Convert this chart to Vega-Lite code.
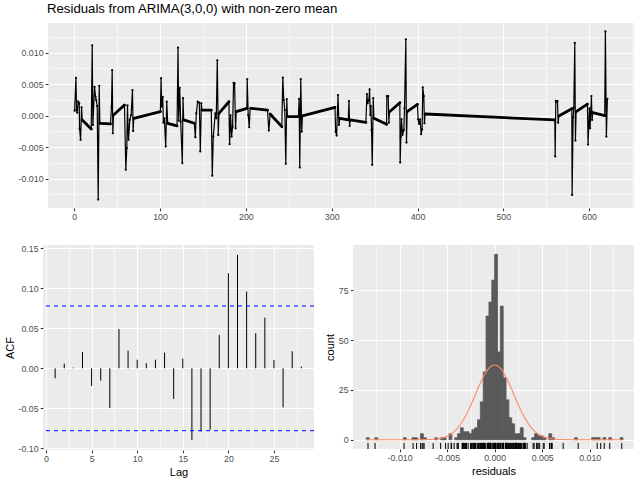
{
  "$schema": "https://vega.github.io/schema/vega-lite/v6.json",
  "background": "white",
  "padding": {"left": 4, "top": 1, "right": 4, "bottom": 4},
  "spacing": 22,
  "datasets": {
    "res": [
      {"t": 0.39, "r": 0.00079}, {"t": 1.94, "r": 0.0060}, {"t": 2.71, "r": 0.00089}, {"t": 3.49, "r": 0.00047},
      {"t": 4.65, "r": 0.00221}, {"t": 5.81, "r": 0.00195}, {"t": 6.2, "r": -0.00205}, {"t": 7.36, "r": -0.00384},
      {"t": 8.53, "r": 0.00132}, {"t": 9.30, "r": -0.00068}, {"t": 19.77, "r": -0.00211}, {"t": 20.93, "r": 0.01116},
      {"t": 21.71, "r": -0.00147}, {"t": 23.64, "r": 0.00458}, {"t": 24.81, "r": 0.0030}, {"t": 25.58, "r": 0.00247},
      {"t": 26.74, "r": 0.00153}, {"t": 27.91, "r": -0.01332}, {"t": 29.07, "r": 0.00474}, {"t": 29.84, "r": -0.00121},
      {"t": 42.25, "r": -0.00132}, {"t": 43.41, "r": 0.00142}, {"t": 44.19, "r": 0.00721}, {"t": 44.96, "r": -0.00279},
      {"t": 45.74, "r": 0.0001}, {"t": 58.53, "r": 0.00168}, {"t": 60.08, "r": -0.00858}, {"t": 61.24, "r": -0.00516},
      {"t": 62.02, "r": 0.00163}, {"t": 63.18, "r": -0.00384}, {"t": 64.73, "r": -0.00068}, {"t": 66.28, "r": 0.0001},
      {"t": 67.83, "r": 0.00405}, {"t": 68.60, "r": -0.00242}, {"t": 69.38, "r": -0.00042}, {"t": 100.39, "r": 0.00063},
      {"t": 101.16, "r": 0.00595}, {"t": 101.94, "r": 0.00142}, {"t": 103.10, "r": 0.0030}, {"t": 103.88, "r": -0.00111},
      {"t": 105.04, "r": -0.00042}, {"t": 106.59, "r": -0.00489}, {"t": 107.75, "r": 0.00221}, {"t": 108.91, "r": -0.00121},
      {"t": 119.77, "r": -0.00163}, {"t": 120.93, "r": 0.01079}, {"t": 121.71, "r": -0.00079}, {"t": 122.87, "r": 0.00442},
      {"t": 124.03, "r": -0.00095}, {"t": 125.97, "r": -0.00753}, {"t": 126.74, "r": 0.00279}, {"t": 127.52, "r": -0.00068},
      {"t": 139.92, "r": -0.00121}, {"t": 141.09, "r": -0.00342}, {"t": 142.25, "r": 0.00037}, {"t": 143.80, "r": 0.00221},
      {"t": 145.74, "r": 0.00205}, {"t": 146.90, "r": -0.00568}, {"t": 148.06, "r": 0.00195}, {"t": 148.84, "r": 0.00089},
      {"t": 159.69, "r": 0.00089}, {"t": 160.85, "r": -0.00953}, {"t": 162.02, "r": -0.00332}, {"t": 164.34, "r": 0.00037},
      {"t": 165.50, "r": -0.00042}, {"t": 166.67, "r": 0.00879}, {"t": 167.83, "r": -0.00305}, {"t": 168.60, "r": 0.00037},
      {"t": 180.23, "r": 0.00221}, {"t": 181.01, "r": -0.00453}, {"t": 182.17, "r": 0.00005}, {"t": 183.33, "r": -0.00332},
      {"t": 184.50, "r": -0.00174}, {"t": 185.66, "r": 0.00521}, {"t": 186.82, "r": 0.00511}, {"t": 187.98, "r": -0.0020},
      {"t": 188.76, "r": 0.00063}, {"t": 201.16, "r": 0.00116}, {"t": 201.55, "r": 0.00579}, {"t": 202.71, "r": 0.0001},
      {"t": 203.88, "r": -0.00184}, {"t": 205.04, "r": 0.00116}, {"t": 206.20, "r": 0.00116}, {"t": 225.19, "r": 0.00089},
      {"t": 226.74, "r": -0.00237}, {"t": 228.29, "r": 0.00026}, {"t": 241.86, "r": -0.00174}, {"t": 243.02, "r": 0.00605},
      {"t": 244.19, "r": 0.00247}, {"t": 245.35, "r": 0.00089}, {"t": 246.51, "r": -0.00763}, {"t": 247.67, "r": 0.00263},
      {"t": 248.45, "r": -0.00016}, {"t": 261.24, "r": -0.00016}, {"t": 262.02, "r": 0.00268}, {"t": 262.79, "r": -0.00821},
      {"t": 263.95, "r": 0.00579}, {"t": 265.12, "r": -0.00253}, {"t": 265.89, "r": -0.00005}, {"t": 303.84, "r": 0.00132},
      {"t": 304.61, "r": -0.00253}, {"t": 305.78, "r": -0.00316}, {"t": 307.33, "r": 0.00326}, {"t": 308.49, "r": -0.00147},
      {"t": 309.65, "r": -0.00042}, {"t": 319.34, "r": -0.00068}, {"t": 320.12, "r": 0.00232}, {"t": 320.89, "r": -0.00163},
      {"t": 321.67, "r": -0.00068}, {"t": 339.88, "r": -0.00105}, {"t": 341.05, "r": 0.00342}, {"t": 341.82, "r": 0.00195},
      {"t": 343.37, "r": 0.00247}, {"t": 344.15, "r": 0.00416}, {"t": 344.92, "r": 0.0001}, {"t": 345.70, "r": 0.00153},
      {"t": 346.47, "r": -0.00226}, {"t": 347.25, "r": -0.00779}, {"t": 348.41, "r": 0.00279}, {"t": 349.19, "r": -0.00042},
      {"t": 363.92, "r": -0.00137}, {"t": 364.30, "r": 0.00311}, {"t": 365.85, "r": 0.00311}, {"t": 366.63, "r": -0.00111},
      {"t": 367.40, "r": 0.00063}, {"t": 379.42, "r": 0.00205}, {"t": 379.81, "r": -0.00742}, {"t": 380.58, "r": -0.00332},
      {"t": 381.36, "r": -0.00053}, {"t": 382.52, "r": -0.00305}, {"t": 384.07, "r": -0.00226}, {"t": 384.85, "r": 0.00116},
      {"t": 386.40, "r": 0.01211}, {"t": 387.17, "r": -0.00426}, {"t": 387.95, "r": 0.00063}, {"t": 399.96, "r": 0.00179},
      {"t": 400.74, "r": -0.00058}, {"t": 401.90, "r": -0.00132}, {"t": 403.06, "r": -0.00058}, {"t": 404.22, "r": -0.00295},
      {"t": 405.39, "r": -0.00216}, {"t": 406.16, "r": 0.00447}, {"t": 407.33, "r": 0.00311}, {"t": 408.10, "r": -0.00121},
      {"t": 408.88, "r": 0.00026}, {"t": 560.04, "r": -0.00068}, {"t": 560.43, "r": -0.00647}, {"t": 561.20, "r": 0.00232},
      {"t": 561.98, "r": 0.00221}, {"t": 563.14, "r": 0.00232}, {"t": 563.92, "r": -0.00111}, {"t": 564.69, "r": -0.00005},
      {"t": 579.81, "r": 0.00111}, {"t": 580.19, "r": -0.01258}, {"t": 581.36, "r": -0.00026}, {"t": 582.13, "r": 0.00126},
      {"t": 583.29, "r": 0.01153}, {"t": 584.07, "r": -0.00395}, {"t": 584.84, "r": 0.00063}, {"t": 598.02, "r": 0.00184},
      {"t": 598.80, "r": -0.00458}, {"t": 600.35, "r": 0.00116}, {"t": 601.12, "r": -0.0020}, {"t": 602.67, "r": 0.00311},
      {"t": 603.45, "r": -0.00068}, {"t": 604.22, "r": 0.00047}, {"t": 618.18, "r": 0.0}, {"t": 618.95, "r": 0.01337},
      {"t": 620.12, "r": -0.00332}, {"t": 621.28, "r": 0.00268}
    ],
    "acf": [
      {"lag": 1, "acf": -0.0125}, {"lag": 2, "acf": 0.0058}, {"lag": 3, "acf": 0.001}, {"lag": 4, "acf": 0.0204},
      {"lag": 5, "acf": -0.022}, {"lag": 6, "acf": -0.0154}, {"lag": 7, "acf": -0.0496}, {"lag": 8, "acf": 0.0492},
      {"lag": 9, "acf": 0.0221}, {"lag": 10, "acf": 0.0108}, {"lag": 11, "acf": 0.0063}, {"lag": 12, "acf": 0.0108},
      {"lag": 13, "acf": 0.0196}, {"lag": 14, "acf": -0.0383}, {"lag": 15, "acf": 0.0121}, {"lag": 16, "acf": -0.0896},
      {"lag": 17, "acf": -0.0788}, {"lag": 18, "acf": -0.0767}, {"lag": 19, "acf": 0.0417}, {"lag": 20, "acf": 0.1188},
      {"lag": 21, "acf": 0.1417}, {"lag": 22, "acf": 0.0958}, {"lag": 23, "acf": 0.0438}, {"lag": 24, "acf": 0.0633},
      {"lag": 25, "acf": 0.0104}, {"lag": 26, "acf": -0.0488}, {"lag": 27, "acf": 0.0213}, {"lag": 28, "acf": 0.0021}
    ],
    "ci": [{"bound": 0.0779}, {"bound": -0.0779}],
    "hist": [
      {"lo": -0.0135, "hi": -0.0132, "count": 1}, {"lo": -0.0126, "hi": -0.0123, "count": 1},
      {"lo": -0.0096, "hi": -0.0093, "count": 1}, {"lo": -0.0087, "hi": -0.0084, "count": 1},
      {"lo": -0.0084, "hi": -0.0081, "count": 1}, {"lo": -0.0078, "hi": -0.0075, "count": 3},
      {"lo": -0.0075, "hi": -0.0072, "count": 1}, {"lo": -0.0063, "hi": -0.0060, "count": 1},
      {"lo": -0.0057, "hi": -0.0054, "count": 1}, {"lo": -0.0054, "hi": -0.0051, "count": 1},
      {"lo": -0.0048, "hi": -0.0045, "count": 3}, {"lo": -0.0042, "hi": -0.0039, "count": 1},
      {"lo": -0.0039, "hi": -0.0036, "count": 3}, {"lo": -0.0036, "hi": -0.0033, "count": 6},
      {"lo": -0.0033, "hi": -0.0030, "count": 4}, {"lo": -0.0030, "hi": -0.0027, "count": 4},
      {"lo": -0.0027, "hi": -0.0024, "count": 3}, {"lo": -0.0024, "hi": -0.0021, "count": 5},
      {"lo": -0.0021, "hi": -0.0018, "count": 6}, {"lo": -0.0018, "hi": -0.0015, "count": 10},
      {"lo": -0.0015, "hi": -0.0012, "count": 19}, {"lo": -0.0012, "hi": -0.0009, "count": 34},
      {"lo": -0.0009, "hi": -0.0006, "count": 62}, {"lo": -0.0006, "hi": -0.0003, "count": 69},
      {"lo": -0.0003, "hi": 0.0, "count": 80}, {"lo": 0.0, "hi": 0.0003, "count": 93},
      {"lo": 0.0003, "hi": 0.0006, "count": 44}, {"lo": 0.0006, "hi": 0.0009, "count": 67},
      {"lo": 0.0009, "hi": 0.0012, "count": 31}, {"lo": 0.0012, "hi": 0.0015, "count": 20},
      {"lo": 0.0015, "hi": 0.0018, "count": 11}, {"lo": 0.0018, "hi": 0.0021, "count": 8},
      {"lo": 0.0021, "hi": 0.0024, "count": 3}, {"lo": 0.0024, "hi": 0.0027, "count": 3},
      {"lo": 0.0027, "hi": 0.0030, "count": 6}, {"lo": 0.0030, "hi": 0.0033, "count": 1},
      {"lo": 0.0039, "hi": 0.0042, "count": 1}, {"lo": 0.0042, "hi": 0.0045, "count": 3},
      {"lo": 0.0045, "hi": 0.0048, "count": 2}, {"lo": 0.0048, "hi": 0.0051, "count": 2},
      {"lo": 0.0051, "hi": 0.0054, "count": 1}, {"lo": 0.0057, "hi": 0.0060, "count": 3},
      {"lo": 0.0060, "hi": 0.0063, "count": 1}, {"lo": 0.0084, "hi": 0.0087, "count": 1},
      {"lo": 0.0102, "hi": 0.0105, "count": 1}, {"lo": 0.0105, "hi": 0.0108, "count": 1},
      {"lo": 0.0108, "hi": 0.0111, "count": 1}, {"lo": 0.0114, "hi": 0.0117, "count": 1},
      {"lo": 0.0120, "hi": 0.0123, "count": 1}, {"lo": 0.0132, "hi": 0.0135, "count": 1}
    ],
    "normal": [
      {"x": -0.0135, "y": 0}, {"x": -0.012, "y": 0}, {"x": -0.010, "y": 0.0}, {"x": -0.009, "y": 0.001},
      {"x": -0.008, "y": 0.015}, {"x": -0.007, "y": 0.09}, {"x": -0.0065, "y": 0.21}, {"x": -0.006, "y": 0.45},
      {"x": -0.0055, "y": 0.92}, {"x": -0.005, "y": 1.75}, {"x": -0.00475, "y": 2.36}, {"x": -0.0045, "y": 3.13},
      {"x": -0.00425, "y": 4.10}, {"x": -0.004, "y": 5.28}, {"x": -0.00375, "y": 6.69}, {"x": -0.0035, "y": 8.36},
      {"x": -0.00325, "y": 10.28}, {"x": -0.003, "y": 12.45}, {"x": -0.00275, "y": 14.84}, {"x": -0.0025, "y": 17.43},
      {"x": -0.00225, "y": 20.16}, {"x": -0.002, "y": 22.97}, {"x": -0.00175, "y": 25.77}, {"x": -0.0015, "y": 28.46},
      {"x": -0.00125, "y": 30.96}, {"x": -0.001, "y": 33.18}, {"x": -0.00075, "y": 35.0}, {"x": -0.0005, "y": 36.37},
      {"x": -0.00025, "y": 37.21}, {"x": 0.0, "y": 37.5}, {"x": 0.00025, "y": 37.21}, {"x": 0.0005, "y": 36.37},
      {"x": 0.00075, "y": 35.0}, {"x": 0.001, "y": 33.18}, {"x": 0.00125, "y": 30.96}, {"x": 0.0015, "y": 28.46},
      {"x": 0.00175, "y": 25.77}, {"x": 0.002, "y": 22.97}, {"x": 0.00225, "y": 20.16}, {"x": 0.0025, "y": 17.43},
      {"x": 0.00275, "y": 14.84}, {"x": 0.003, "y": 12.45}, {"x": 0.00325, "y": 10.28}, {"x": 0.0035, "y": 8.36},
      {"x": 0.00375, "y": 6.69}, {"x": 0.004, "y": 5.28}, {"x": 0.00425, "y": 4.10}, {"x": 0.0045, "y": 3.13},
      {"x": 0.00475, "y": 2.36}, {"x": 0.005, "y": 1.75}, {"x": 0.0055, "y": 0.92}, {"x": 0.006, "y": 0.45},
      {"x": 0.0065, "y": 0.21}, {"x": 0.007, "y": 0.09}, {"x": 0.008, "y": 0.015}, {"x": 0.009, "y": 0.001},
      {"x": 0.010, "y": 0.0}, {"x": 0.012, "y": 0}, {"x": 0.0133, "y": 0}
    ]
  },
  "vconcat": [
    {
      "bounds": "flush",
      "spacing": 0,
      "hconcat": [
        {
          "width": 4.7,
          "height": 185,
          "data": {"values": []},
          "mark": "point",
          "view": {"fill": null, "stroke": null}
        },
        {
          "width": 586,
          "height": 185,
          "title": {
            "text": "Residuals from ARIMA(3,0,0) with non-zero mean",
            "anchor": "start",
            "frame": "group",
            "baseline": "alphabetic",
            "offset": -3,
            "dx": -1
          },
          "data": {"name": "res"},
          "encoding": {
            "x": {
              "field": "t", "type": "quantitative",
              "scale": {"domain": [-30.6, 652.3], "nice": false, "zero": false},
              "axis": {
                "title": null,
                "values": [0, 50, 100, 150, 200, 250, 300, 350, 400, 450, 500, 550, 600, 650],
                "labelExpr": "datum.value % 100 === 0 ? format(datum.value, 'd') : ''",
                "tickOpacity": {"condition": {"test": "datum.value % 100 !== 0", "value": 0}, "value": 1},
                "gridWidth": {"condition": {"test": "datum.value % 100 !== 0", "value": 0.55}, "value": 1.1}
              }
            },
            "y": {
              "field": "r", "type": "quantitative",
              "scale": {"domain": [-0.01465, 0.0147], "nice": false, "zero": false},
              "axis": {
                "title": null,
                "values": [-0.0125, -0.01, -0.0075, -0.005, -0.0025, 0, 0.0025, 0.005, 0.0075, 0.01, 0.0125],
                "labelExpr": "abs(datum.value * 200 - round(datum.value * 200)) < 1e-6 ? replace(format(datum.value, '.3f'), '\u2212', '-') : ''",
                "tickOpacity": {"condition": {"test": "abs(datum.value * 200 - round(datum.value * 200)) > 1e-6", "value": 0}, "value": 1},
                "gridWidth": {"condition": {"test": "abs(datum.value * 200 - round(datum.value * 200)) > 1e-6", "value": 0.55}, "value": 1.1}
              }
            }
          },
          "layer": [
            {"mark": {"type": "line", "color": "black", "strokeWidth": 1.2}},
            {
              "transform": [
                {"window": [{"op": "lead", "field": "t", "as": "t2"}, {"op": "lead", "field": "r", "as": "r2"}], "sort": [{"field": "t", "order": "ascending"}]},
                {"filter": "isValid(datum.t2) && datum.t2 - datum.t > 8"}
              ],
              "mark": {"type": "rule", "color": "black", "strokeWidth": 2.8, "strokeCap": "round"},
              "encoding": {"x2": {"field": "t2"}, "y2": {"field": "r2"}}
            },
            {"mark": {"type": "point", "filled": true, "color": "black", "size": 5, "opacity": 1}}
          ]
        }
      ]
    },
    {
      "bounds": "flush",
      "spacing": 39,
      "hconcat": [
        {
          "width": 271,
          "height": 205,
          "layer": [
            {
              "data": {"name": "acf"},
              "mark": {"type": "rule", "color": "black", "strokeWidth": 1},
              "encoding": {
                "x": {
                  "field": "lag", "type": "quantitative",
                  "scale": {"domain": [-0.33, 29.39], "nice": false, "zero": false},
                  "axis": {
                    "title": "Lag",
                    "values": [0, 2.5, 5, 7.5, 10, 12.5, 15, 17.5, 20, 22.5, 25, 27.5],
                    "labelExpr": "datum.value % 5 === 0 ? format(datum.value, 'd') : ''",
                    "tickOpacity": {"condition": {"test": "datum.value % 5 !== 0", "value": 0}, "value": 1},
                    "gridWidth": {"condition": {"test": "datum.value % 5 !== 0", "value": 0.55}, "value": 1.1}
                  }
                },
                "y": {
                  "field": "acf", "type": "quantitative",
                  "scale": {"domain": [-0.102, 0.154], "nice": false, "zero": false},
                  "axis": {
                    "title": "ACF",
                    "values": [-0.1, -0.075, -0.05, -0.025, 0, 0.025, 0.05, 0.075, 0.1, 0.125, 0.15],
                    "labelExpr": "abs(datum.value * 20 - round(datum.value * 20)) < 1e-6 ? replace(format(datum.value, '.2f'), '\u2212', '-') : ''",
                    "tickOpacity": {"condition": {"test": "abs(datum.value * 20 - round(datum.value * 20)) > 1e-6", "value": 0}, "value": 1},
                    "gridWidth": {"condition": {"test": "abs(datum.value * 20 - round(datum.value * 20)) > 1e-6", "value": 0.55}, "value": 1.1}
                  }
                },
                "y2": {"datum": 0}
              }
            },
            {
              "mark": {"type": "rule", "color": "black", "strokeWidth": 1},
              "encoding": {"y": {"datum": 0}}
            },
            {
              "data": {"name": "ci"},
              "mark": {"type": "rule", "color": "#0000FF", "strokeWidth": 1, "strokeDash": [4, 4]},
              "encoding": {"y": {"field": "bound", "type": "quantitative"}}
            }
          ]
        },
        {
          "width": 281,
          "height": 204,
          "encoding": {
            "x": {
              "field": "xv", "type": "quantitative",
              "scale": {"domain": [-0.0149, 0.01466], "nice": false, "zero": false},
              "axis": {
                "title": "residuals",
                "values": [-0.0125, -0.01, -0.0075, -0.005, -0.0025, 0, 0.0025, 0.005, 0.0075, 0.01, 0.0125],
                "labelExpr": "abs(datum.value * 200 - round(datum.value * 200)) < 1e-6 ? replace(format(datum.value, '.3f'), '\u2212', '-') : ''",
                "tickOpacity": {"condition": {"test": "abs(datum.value * 200 - round(datum.value * 200)) > 1e-6", "value": 0}, "value": 1},
                "gridWidth": {"condition": {"test": "abs(datum.value * 200 - round(datum.value * 200)) > 1e-6", "value": 0.55}, "value": 1.1}
              }
            }
          },
          "layer": [
            {
              "data": {"name": "hist"},
              "mark": {"type": "rect", "color": "#595959", "stroke": "#595959", "strokeWidth": 0.8},
              "encoding": {
                "x": {"field": "lo"},
                "x2": {"field": "hi"},
                "y": {
                  "field": "count", "type": "quantitative",
                  "scale": {"domain": [-4.65, 97.65], "nice": false, "zero": false},
                  "axis": {
                    "title": "count",
                    "values": [0, 12.5, 25, 37.5, 50, 62.5, 75, 87.5],
                    "labelExpr": "datum.value % 25 === 0 ? format(datum.value, 'd') : ''",
                    "tickOpacity": {"condition": {"test": "datum.value % 25 !== 0", "value": 0}, "value": 1},
                    "gridWidth": {"condition": {"test": "datum.value % 25 !== 0", "value": 0.55}, "value": 1.1}
                  }
                },
                "y2": {"datum": 0}
              }
            },
            {
              "data": {"name": "normal"},
              "mark": {"type": "line", "color": "#ff8a62", "strokeWidth": 1.1, "interpolate": "monotone"},
              "encoding": {
                "x": {"field": "x"},
                "y": {"field": "y", "type": "quantitative"}
              }
            },
            {
              "data": {"name": "res"},
              "mark": {"type": "rule", "color": "black", "strokeWidth": 1},
              "encoding": {
                "x": {"field": "r"},
                "y": {"datum": -4.65},
                "y2": {"datum": -1.6}
              }
            }
          ]
        }
      ]
    }
  ],
  "config": {
    "font": "Liberation Sans",
    "view": {"fill": "#EBEBEB", "stroke": null},
    "title": {"font": "Liberation Sans", "fontSize": 13.2, "fontWeight": "normal", "color": "black"},
    "axis": {
      "domain": false,
      "grid": true,
      "gridColor": "white",
      "tickColor": "#333333",
      "tickSize": 2.75,
      "tickWidth": 1.07,
      "labelColor": "#4D4D4D",
      "labelFont": "Liberation Sans",
      "labelFontSize": 8.8,
      "labelPadding": 2.2,
      "labelFlush": false,
      "labelOverlap": false,
      "labelBound": false,
      "titleFont": "Liberation Sans",
      "titleFontSize": 11,
      "titleFontWeight": "normal",
      "titleColor": "black",
      "titlePadding": 2.75
    }
  }
}
